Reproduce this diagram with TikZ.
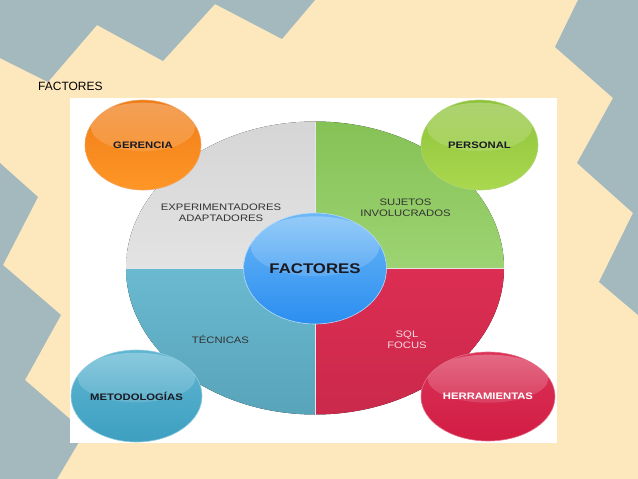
\documentclass[tikz,border=0pt]{standalone}
\usepackage{fontspec}
\setmainfont{Liberation Sans}
\newfontfamily\diagfont[FakeStretch=1.2]{Liberation Sans}
\usetikzlibrary{shapes.geometric, fadings}
\definecolor{cream}{HTML}{FDE8BE}
\definecolor{slate}{HTML}{A3B9BE}
\definecolor{ink}{HTML}{1A1A22}
\definecolor{inkgrey}{HTML}{333333}
\definecolor{quadgrey}{HTML}{E3E3E3}
\definecolor{quadgreen}{HTML}{8CCC5A}
\definecolor{quadblue}{HTML}{62B6CE}
\definecolor{quadred}{HTML}{DC2D52}
\definecolor{coretop}{HTML}{6DB8F6}
\definecolor{corebot}{HTML}{2B8EF0}
\definecolor{orangetop}{HTML}{EE7C18}
\definecolor{orangebot}{HTML}{FF9626}
\definecolor{greentop}{HTML}{8DC23A}
\definecolor{greenbot}{HTML}{AAD84E}
\definecolor{tealtop}{HTML}{5FB6D2}
\definecolor{tealbot}{HTML}{3E9FC0}
\definecolor{redtop}{HTML}{DA3357}
\definecolor{redbot}{HTML}{D21C44}
\definecolor{pinktext}{HTML}{F7D9E0}
\tikzfading[name=glossfade, top color=transparent!72, bottom color=transparent!100]
\tikzset{
  ball/.style 2 args = {ellipse, inner sep=0pt, minimum width=#1pt, minimum height=#2pt,
                        line width=0.6pt, text=ink,
                        font=\diagfont\fontsize{9.4}{10}\selectfont\bfseries,
                        path picture={\fill[white, path fading=glossfade]
                          ([yshift=#2*0.2]path picture bounding box.center)
                          ellipse [x radius=#1*0.45, y radius=#2*0.27];}},
  quadtext/.style    = {align=center, text=inkgrey, inner sep=0pt,
                        font=\diagfont\fontsize{9.4}{11}\selectfont},
}

\begin{document}
\begin{tikzpicture}[x=1pt, y=-1pt]

  \useasboundingbox (0,0) rectangle (638,479);
  \fill[cream] (0,0) rectangle (638,479);

  % zigzag bands
  \fill[slate] (0,0) -- (315,0) -- (282,39) -- (215,4) -- (163,61) -- (97,25)
               -- (48,82) -- (0,58) -- cycle;
  \fill[slate] (578,0) -- (638,0) -- (638,315) -- (599,282) -- (633,213)
               -- (577,163) -- (613,98) -- (555,47) -- cycle;
  \fill[slate] (0,163) -- (38,197) -- (3,265) -- (61,315) -- (25,380)
               -- (85,432) -- (57,479) -- (0,479) -- cycle;

  \node[anchor=base west, inner sep=0pt, font=\fontsize{12}{14}\selectfont] (title)
       at (38,90.5) {FACTORES};

  \fill[white] (70,98) rectangle (557,443);

  % four quarters of the big disc
  \fill[top color=quadgrey!94!black, bottom color=quadgrey]
       (315,268) -- (126,268) arc[start angle=180, end angle=270, x radius=189, y radius=146.5] -- cycle;
  \fill[top color=quadgreen!95!black, bottom color=quadgreen!85!white]
       (315,268) -- (315,121.5) arc[start angle=270, end angle=360, x radius=189, y radius=146.5] -- cycle;
  \fill[top color=quadred, bottom color=quadred!92!black]
       (315,268) -- (504,268) arc[start angle=0, end angle=90, x radius=189, y radius=146.5] -- cycle;
  \fill[top color=quadblue!95!white, bottom color=quadblue!90!black]
       (315,268) -- (315,414.5) arc[start angle=90, end angle=180, x radius=189, y radius=146.5] -- cycle;
  \draw[white!90!black, line width=0.8pt] (126,268) -- (504,268);
  \draw[white!90!black, line width=0.8pt] (315,121.5) -- (315,414.5);

  \node[quadtext] (exper) at (221,212.5) {EXPERIMENTADORES\\ADAPTADORES};
  \node[quadtext] (sujetos) at (405.5,207.5) {SUJETOS\\INVOLUCRADOS};
  \node[quadtext] (tecnicas) at (220.5,339) {TÉCNICAS};
  \node[quadtext, text=pinktext] (sql) at (407,340) {SQL\\FOCUS};

  % centre and corner balls
  \node[ball={143}{111}, top color=coretop, bottom color=corebot, draw=coretop!50!white,
        font=\diagfont\fontsize{14}{16}\selectfont\bfseries] (core) at (315,268.5) {FACTORES};

  \node[ball={116}{90}, top color=orangetop, bottom color=orangebot, draw=orangetop!70!white]
       (gerencia) at (143,145) {GERENCIA};
  \node[ball={117}{90}, top color=greentop, bottom color=greenbot, draw=greentop!70!white]
       (personal) at (479.5,145) {PERSONAL};
  \node[ball={131}{92}, top color=tealtop, bottom color=tealbot, draw=tealtop!70!white]
       (metodo) at (136.5,396) {METODOLOGÍAS};
  \node[ball={134}{89}, top color=redtop, bottom color=redbot, draw=redtop!70!white, text=white]
       (herram) at (488,396.5) {HERRAMIENTAS};

\end{tikzpicture}
\end{document}
